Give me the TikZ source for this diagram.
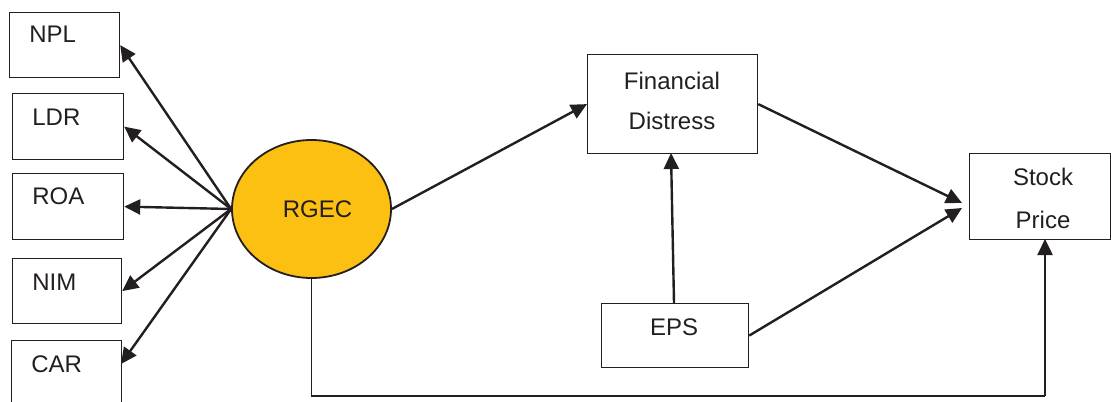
\documentclass[tikz,border=0pt]{standalone}
\usepackage{fontspec}
\setmainfont{Liberation Sans}
\usetikzlibrary{arrows.meta,calc,shapes.geometric}
\definecolor{gold}{HTML}{FBC012}
\definecolor{ink}{HTML}{231F20}
\begin{document}
\begin{tikzpicture}[x=0.5pt,y=-0.5pt,
  txt/.style={font=\fontsize{12}{20}\selectfont, text=ink},
  box/.style={draw=ink, line width=0.6pt, inner sep=0pt, anchor=north west},
  arr/.style={draw=ink, line width=1.2pt, -{Triangle[length=8pt,width=7.5pt]}}]
\useasboundingbox (0,0) rectangle (1111,401);
% left boxes
\node[box, minimum width=55pt, minimum height=32.5pt] (npl) at (9,12) {};
\node[box, minimum width=55.5pt, minimum height=33pt] (ldr) at (12,93) {};
\node[box, minimum width=55.5pt, minimum height=33pt] (roa) at (12,173) {};
\node[box, minimum width=54.5pt, minimum height=32.5pt] (nim) at (12,258) {};
\node[box, minimum width=55pt, minimum height=36pt] (car) at (11,340) {};
\node[txt, anchor=base west, inner sep=0pt] (tnpl) at (29,43) {NPL};
\node[txt, anchor=base west, inner sep=0pt] (tldr) at (32,125) {LDR};
\node[txt, anchor=base west, inner sep=0pt] (troa) at (32,204) {ROA};
\node[txt, anchor=base west, inner sep=0pt] (tnim) at (32,290) {NIM};
\node[txt, anchor=base west, inner sep=0pt] (tcar) at (31,372) {CAR};
% ellipse
\node[ellipse, draw=ink, line width=0.9pt, fill=gold, minimum width=79.5pt, minimum height=69pt, inner sep=0pt, txt] (rgec) at (311.5,209) {\hspace*{6pt}RGEC};
% right boxes
\node[box, minimum width=85pt, minimum height=49.5pt] (fd) at (587,54) {};
\node[txt, align=center] (tfd) at (672,100.5) {Financial\\Distress};
\node[box, minimum width=70.5pt, minimum height=43pt] (sp) at (969,153) {};
\node[txt, align=center, font=\fontsize{12}{21.5}\selectfont] (tsp) at (1043,198.5) {Stock\\Price};
\node[box, minimum width=73.5pt, minimum height=32pt] (eps) at (601,303) {};
\node[txt] (teps) at (674,327) {EPS};
% helper coordinates
\coordinate (carin) at (121,364);
\coordinate (spa) at (962,203);
\coordinate (spb) at (962,208);
\coordinate (corner) at (1045,396);
\coordinate (spbot) at (1045,239);
\coordinate (epstop) at (674,303);
\coordinate (fdbot) at (671,153);
% arrows from RGEC to indicators
\draw[arr] (rgec.west) -- (npl.east);
\draw[arr] (rgec.west) -- (ldr.east);
\draw[arr] (rgec.west) -- (roa.east);
\draw[arr] (rgec.west) -- (nim.east);
\draw[arr] (rgec.west) -- (carin);
% main paths
\draw[arr] (rgec.east) -- (fd.west);
\draw[arr] (fd.east) -- (spa);
\draw[arr] (eps.east) -- (spb);
\draw[arr] (epstop) -- (fdbot);
\draw[draw=ink, line width=0.7pt] (rgec.south) |- (corner);
\draw[arr] (corner) -- (spbot);
\end{tikzpicture}
\end{document}
